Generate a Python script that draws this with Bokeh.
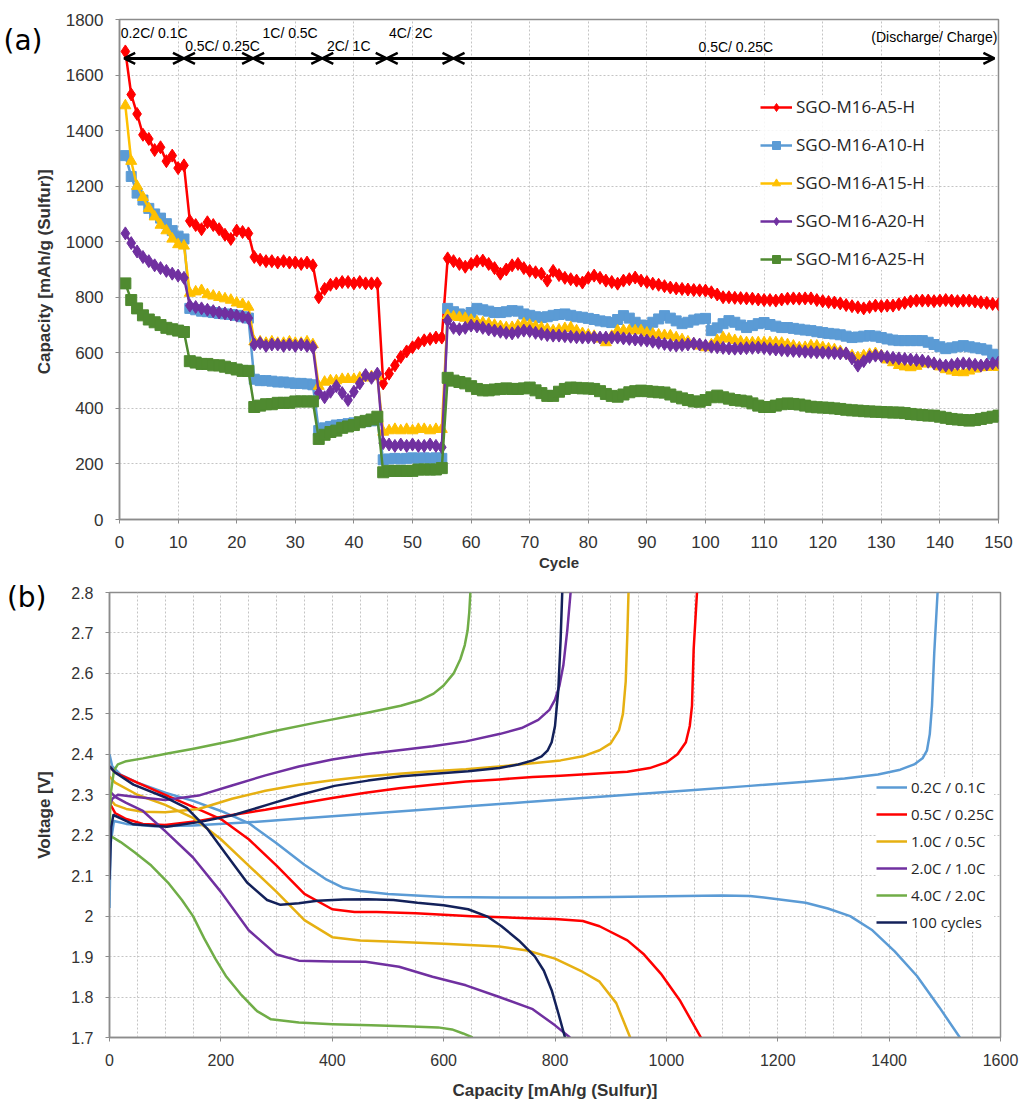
from bokeh.plotting import figure
from bokeh.layouts import column, row
from bokeh.models import (ColumnDataSource, Legend, LegendItem, Arrow, OpenHead,
                          FixedTicker, Range1d, LinearAxis)
from bokeh.embed import file_html
from bokeh.resources import INLINE
from bokeh.core.properties import value

# ---------------- Panel (a) data: capacity vs cycle ----------------
cycles = list(range(1, 151))
series_names = ["SGO-M16-A5-H", "SGO-M16-A10-H", "SGO-M16-A15-H", "SGO-M16-A20-H", "SGO-M16-A25-H"]

cap_a5 = [
    1685, 1530, 1460, 1385, 1370, 1330, 1340, 1290, 1310, 1265,
    1275, 1075, 1060, 1045, 1070, 1060, 1045, 1025, 1010, 1040,
    1035, 1030, 945, 935, 930, 930, 925, 930, 925, 925,
    920, 925, 915, 800, 830, 845, 850, 855, 855, 850,
    855, 850, 850, 850, 490, 525, 555, 585, 605, 620,
    635, 645, 650, 655, 655, 940, 930, 920, 910, 920,
    930, 932, 920, 905, 885, 900, 915, 920, 905, 895,
    890, 885, 860, 895, 880, 870, 865, 860, 853, 870,
    878, 870, 860, 855, 849, 860, 865, 871, 860, 855,
    849, 845, 840, 835, 832, 830, 828, 826, 825, 824,
    818, 810, 800, 800, 798, 797, 796, 795, 792, 790,
    790, 788, 792, 795, 796, 795, 796, 796, 790, 786,
    783, 781, 778, 772, 768, 764, 760, 765, 770, 768,
    770, 770, 775, 780, 785, 788, 788, 788, 786, 788,
    790, 788, 786, 788, 788, 785, 782, 780, 776, 775]

cap_a10 = [
    1310, 1235, 1175, 1150, 1120, 1100, 1085, 1065, 1040, 1020,
    1010, 760, 755, 750, 748, 745, 742, 740, 738, 735,
    730, 725, 505, 500, 500, 498, 495, 495, 492, 490,
    490, 488, 485, 320, 330, 335, 340, 342, 345, 348,
    350, 352, 355, 358, 215, 218, 220, 218, 220, 222,
    220, 222, 220, 222, 220, 760, 748, 740, 735, 745,
    760, 755, 750, 745, 745, 748, 752, 750, 740, 735,
    730, 727, 730, 735, 738, 740, 735, 730, 728, 724,
    720, 715, 712, 709, 720, 734, 725, 710, 700, 698,
    710, 722, 734, 725, 715, 705, 710, 718, 722, 724,
    680, 690, 705, 716, 710, 700, 691, 698, 705, 709,
    702, 696, 691, 691, 688, 685, 682, 680, 676, 673,
    670, 668, 665, 660, 655, 657, 660, 662, 660, 655,
    650, 646, 644, 644, 644, 644, 644, 638, 630, 622,
    615, 618, 622, 626, 622, 618, 615, 610, 595, 590]

cap_a15 = [
    1490, 1290, 1200, 1160, 1120, 1090, 1060, 1040, 1010, 990,
    985, 815, 820, 825, 810, 805, 800, 795, 790, 780,
    775, 765, 640, 640, 635, 640, 635, 635, 640, 635,
    635, 640, 630, 480, 495, 500, 500, 505, 505, 505,
    510, 510, 515, 515, 315, 320, 325, 320, 325, 320,
    325, 325, 320, 325, 325, 735, 730, 728, 725, 718,
    712, 709, 705, 700, 695, 691, 692, 698, 705, 700,
    695, 690, 685, 680, 683, 688, 691, 680, 670, 665,
    660, 650, 637, 660, 680, 680, 680, 680, 680, 672,
    668, 665, 663, 662, 655, 648, 640, 632, 625, 619,
    630, 645, 655, 650, 645, 640, 637, 637, 637, 637,
    637, 637, 635, 630, 625, 619, 620, 626, 625, 620,
    615, 612, 605, 598, 590, 583, 590, 595, 598, 590,
    575, 565, 555, 550, 547, 552, 560, 565, 560, 550,
    540, 535, 530, 529, 535, 542, 547, 548, 550, 548]

cap_a20 = [
    1030, 995, 965, 945, 930, 915, 905, 895, 885, 878,
    870, 770, 765, 760, 755, 750, 745, 742, 738, 734,
    730, 725, 630, 635, 625, 630, 630, 625, 630, 625,
    630, 625, 620, 455, 440, 460, 480, 455, 430, 460,
    490, 520, 510, 525, 275, 270, 265, 270, 265, 270,
    265, 265, 270, 265, 260, 716, 690, 685, 690, 698,
    695, 690, 684, 680, 676, 672, 670, 675, 680, 678,
    672, 668, 664, 662, 662, 660, 658, 656, 655, 655,
    655, 655, 655, 655, 655, 652, 650, 648, 646, 644,
    640, 636, 632, 628, 626, 628, 630, 633, 630, 626,
    622, 620, 618, 616, 615, 616, 617, 618, 619, 617,
    614, 612, 610, 608, 607, 606, 604, 603, 602, 601,
    600, 599, 598, 598, 580, 554, 570, 585, 590, 588,
    585, 582, 580, 578, 576, 574, 572, 568, 562, 556,
    554, 556, 560, 562, 560, 557, 554, 558, 562, 565]

cap_a25 = [
    850, 790, 760, 735, 720, 710, 700, 690, 685, 680,
    675, 570, 565, 560, 560, 555, 555, 550, 545, 540,
    535, 535, 405, 410, 415, 415, 420, 420, 420, 425,
    425, 425, 425, 290, 305, 315, 320, 330, 335, 340,
    350, 355, 360, 370, 170, 175, 175, 175, 175, 175,
    180, 180, 180, 180, 185, 510, 500, 495, 490, 480,
    470, 465, 465, 468, 470, 472, 470, 470, 472, 475,
    465, 455, 445, 445, 460, 470, 475, 474, 472, 472,
    470, 462, 452, 445, 442, 450, 458, 462, 464, 462,
    460, 458, 457, 450, 442, 436, 430, 425, 424, 430,
    440, 446, 440, 435, 430, 428, 425, 418, 410, 405,
    405, 410, 415, 418, 416, 414, 410, 406, 404, 403,
    402, 400, 398, 395, 393, 392, 390, 389, 388, 387,
    386, 385, 385, 383, 380, 378, 376, 374, 374, 370,
    366, 362, 360, 358, 356, 358, 362, 366, 370, 374]

# rate-step annotations (cycle boundaries of the arrows)
phase_bounds = [0.8, 11.0, 22.8, 34.6, 45.6, 57.0, 149.3]
arrow_level = 1660
rate_labels = ["0.2C/ 0.1C", "0.5C/ 0.25C", "1C/ 0.5C", "2C/ 1C", "4C/ 2C", "0.5C/ 0.25C"]
rate_label_x = [0.2, 11.2, 24.4, 35.4, 46.0, 98.8]
rate_label_y = [1753, 1703, 1753, 1703, 1753, 1700]
note_text = "(Discharge/ Charge)"
panel_tags = ["(a)", "(b)"]

# ---------------- Panel (b) data: voltage profiles ----------------
curve_names = ["0.2C / 0.1C", "0.5C / 0.25C", "1.0C / 0.5C", "2.0C / 1.0C", "4.0C / 2.0C", "100 cycles"]

c02_dis_cap = [0, 5, 20, 50, 100, 150, 200, 250, 300, 350, 390, 420, 450, 500, 600, 700, 800, 900,
               1000, 1100, 1150, 1200, 1250, 1290, 1330, 1370, 1410, 1450, 1490, 1527]
c02_dis_v = [2.40, 2.37, 2.35, 2.33, 2.305, 2.285, 2.26, 2.23, 2.18, 2.127, 2.09, 2.07, 2.062, 2.055,
             2.047, 2.046, 2.046, 2.047, 2.049, 2.051, 2.050, 2.042, 2.033, 2.019, 2.0, 1.965,
             1.913, 1.852, 1.775, 1.70]
c02_chg_cap = [0, 2, 8, 30, 80, 150, 250, 350, 450, 550, 650, 750, 850, 950, 1050, 1150, 1250,
               1320, 1380, 1420, 1445, 1460, 1468, 1473, 1477, 1481, 1487]
c02_chg_v = [2.02, 2.18, 2.235, 2.228, 2.222, 2.224, 2.232, 2.242, 2.252, 2.262, 2.272, 2.282,
             2.292, 2.302, 2.312, 2.322, 2.332, 2.340, 2.350, 2.362, 2.375, 2.39, 2.41, 2.45,
             2.52, 2.65, 2.80]

c05_dis_cap = [0, 10, 50, 100, 150, 200, 250, 300, 350, 400, 440, 480, 550, 650, 750, 800, 850,
               880, 930, 960, 990, 1025, 1062]
c05_dis_v = [2.37, 2.355, 2.33, 2.30, 2.27, 2.24, 2.19, 2.125, 2.055, 2.017, 2.01, 2.01, 2.007,
             2.0, 1.995, 1.993, 1.988, 1.975, 1.94, 1.905, 1.858, 1.79, 1.70]
c05_chg_cap = [0, 10, 30, 60, 100, 160, 220, 280, 340, 400, 460, 520, 580, 640, 700, 760, 810,
               870, 930, 970, 1000, 1020, 1035, 1042, 1046, 1049, 1055]
c05_chg_v = [2.28, 2.255, 2.24, 2.228, 2.225, 2.235, 2.25, 2.263, 2.278, 2.292, 2.305, 2.316,
             2.325, 2.333, 2.338, 2.344, 2.347, 2.352, 2.357, 2.366, 2.38, 2.40, 2.43, 2.47,
             2.52, 2.66, 2.80]

c10_dis_cap = [0, 10, 50, 100, 150, 200, 250, 300, 350, 400, 450, 500, 600, 700, 750, 800, 850,
               880, 910, 935]
c10_dis_v = [2.345, 2.33, 2.30, 2.275, 2.243, 2.19, 2.125, 2.06, 1.99, 1.948, 1.94, 1.937, 1.932,
             1.925, 1.915, 1.895, 1.862, 1.838, 1.785, 1.70]
c10_chg_cap = [0, 10, 30, 60, 100, 160, 220, 280, 340, 400, 460, 520, 580, 640, 700, 760, 810,
               850, 880, 900, 915, 922, 927, 930, 932]
c10_chg_v = [2.29, 2.275, 2.265, 2.258, 2.257, 2.265, 2.29, 2.31, 2.325, 2.336, 2.345, 2.352,
             2.358, 2.363, 2.37, 2.378, 2.385, 2.395, 2.41, 2.427, 2.46, 2.50, 2.58, 2.70, 2.80]

c20_dis_cap = [0, 10, 30, 60, 100, 150, 200, 250, 300, 340, 400, 460, 520, 580, 640, 700, 760,
               800, 827]
c20_dis_v = [2.31, 2.295, 2.28, 2.26, 2.21, 2.145, 2.06, 1.965, 1.905, 1.89, 1.888, 1.887, 1.875,
             1.85, 1.829, 1.80, 1.77, 1.73, 1.70]
c20_chg_cap = [0, 5, 15, 40, 100, 160, 220, 280, 340, 400, 460, 520, 580, 640, 700, 740, 770, 790,
               800, 808, 815, 822, 828]
c20_chg_v = [2.27, 2.29, 2.30, 2.296, 2.287, 2.298, 2.323, 2.348, 2.37, 2.387, 2.40, 2.41, 2.42,
             2.432, 2.45, 2.465, 2.485, 2.51, 2.535, 2.57, 2.62, 2.706, 2.80]

c40_dis_cap = [0, 20, 45, 75, 105, 130, 150, 170, 190, 210, 235, 265, 290, 340, 400, 470, 530,
               590, 615, 635, 652]
c40_dis_v = [2.20, 2.183, 2.158, 2.125, 2.083, 2.04, 2.0, 1.945, 1.895, 1.85, 1.808, 1.765, 1.745,
             1.737, 1.733, 1.730, 1.728, 1.725, 1.72, 1.71, 1.70]
c40_chg_cap = [0, 2, 8, 15, 30, 60, 104, 151, 223, 301, 373, 463, 523, 560, 582, 600, 618, 630,
               638, 643, 646, 648]
c40_chg_v = [2.20, 2.30, 2.36, 2.375, 2.383, 2.39, 2.402, 2.414, 2.434, 2.459, 2.479, 2.503, 2.52,
             2.535, 2.55, 2.57, 2.60, 2.635, 2.67, 2.706, 2.75, 2.80]

c100_dis_cap = [0, 10, 43, 103, 139, 175, 211, 247, 283, 307, 340, 373, 420, 464, 510, 553, 600,
                644, 680, 704, 735, 764, 780, 794, 806, 818]
c100_dis_v = [2.37, 2.355, 2.325, 2.292, 2.267, 2.217, 2.15, 2.083, 2.04, 2.028, 2.032, 2.038,
              2.041, 2.042, 2.04, 2.033, 2.027, 2.017, 1.998, 1.975, 1.94, 1.90, 1.865, 1.817,
              1.76, 1.70]
c100_chg_cap = [0, 3, 7, 19, 43, 103, 163, 223, 283, 343, 404, 464, 524, 584, 644, 700, 734, 760,
                776, 787, 794, 800, 806, 810, 813]
c100_chg_v = [2.09, 2.22, 2.25, 2.242, 2.227, 2.221, 2.233, 2.25, 2.275, 2.30, 2.322, 2.335,
              2.346, 2.352, 2.358, 2.366, 2.375, 2.385, 2.395, 2.41, 2.43, 2.47, 2.56, 2.68, 2.80]

# ---------------- styling ----------------
SANS = "Liberation Sans"
LEG_FONT = "Open Sans"
AXIS_GRAY = "#8c8c8c"
GRID_GRAY = "#c4c4c4"


def style_axes(p, tick_size):
    for ax in (p.xaxis[0], p.yaxis[0]):
        ax.axis_line_color = AXIS_GRAY
        ax.axis_line_width = 1.5
        ax.major_tick_line_color = AXIS_GRAY
        ax.major_tick_out = 4
        ax.major_tick_in = 0
        ax.minor_tick_line_color = None
        ax.major_label_text_font = SANS
        ax.major_label_text_font_size = tick_size
        ax.major_label_text_color = "#333333"
        ax.axis_label_text_font = SANS
        ax.axis_label_text_font_style = "bold"
        ax.axis_label_text_color = "#333333"
        ax.major_label_standoff = 12
    p.outline_line_color = AXIS_GRAY
    p.outline_line_width = 1.5
    p.grid.grid_line_color = GRID_GRAY
    p.grid.grid_line_dash = "2 2"
    p.grid.grid_line_width = 1


def tag_axis(tick, text, standoff):
    # an outer, line-less axis whose single tick label is the panel tag
    return LinearAxis(ticker=FixedTicker(ticks=[tick]), major_label_overrides={tick: text},
                      axis_line_color=None, major_tick_line_color=None,
                      minor_tick_line_color=None, major_tick_out=0, major_tick_in=0,
                      major_label_standoff=standoff, major_label_text_font="DejaVu Sans",
                      major_label_text_font_size="28px", major_label_text_color="black")


# ---------------- Panel (a) ----------------
pa = figure(width=1024, height=578, x_range=Range1d(0, 150), y_range=Range1d(0, 1800),
            output_backend="svg", toolbar_location=None,
            min_border_left=117, min_border_right=26, min_border_top=19, min_border_bottom=59)
style_axes(pa, "17px")
pa.xaxis.ticker = FixedTicker(ticks=list(range(0, 151, 10)))
pa.yaxis.ticker = FixedTicker(ticks=list(range(0, 1801, 200)))
pa.xaxis.axis_label = "Cycle"
pa.xaxis.axis_label_text_font_size = "15px"
pa.xaxis.axis_label_standoff = 3
pa.yaxis.axis_label = "Capacity  [mAh/g (Sulfur)]"
pa.yaxis.axis_label_text_font_size = "17px"
pa.yaxis.axis_label_standoff = 9
pa.add_layout(tag_axis(1724, panel_tags[0], -11), "left")

colors_a = ["#ff0000", "#5b9bd5", "#ffc000", "#7030a0", "#4f8a30"]
markers_a = ["diamond", "square", "triangle", "diamond", "square"]
sizes_a = [13, 10, 11, 13, 11]
data_a = [cap_a5, cap_a10, cap_a15, cap_a20, cap_a25]
items_a = []
for name, col, mk, sz, ys in zip(series_names, colors_a, markers_a, sizes_a, data_a):
    src = ColumnDataSource(dict(x=cycles, y=ys))
    ln = pa.line("x", "y", source=src, line_color=col, line_width=2.5)
    sc = pa.scatter("x", "y", source=src, marker=mk, size=sz, fill_color=col, line_color=col)
    items_a.append(LegendItem(label=name, renderers=[ln, sc]))

leg_a = Legend(items=items_a, location=(641, 249), glyph_width=32, glyph_height=20,
               label_standoff=4, spacing=15, padding=5, border_line_color=None,
               background_fill_color="white", background_fill_alpha=0.85,
               label_text_font=LEG_FONT, label_text_font_size="17px",
               label_text_color="#262626", label_height=20)
pa.add_layout(leg_a)

arr_src = ColumnDataSource(dict(x0=phase_bounds[:-1], x1=phase_bounds[1:],
                                y0=[arrow_level] * 6, y1=[arrow_level] * 6))
pa.add_layout(Arrow(start=OpenHead(size=11, line_width=2.5, line_color="black"),
                    end=OpenHead(size=11, line_width=2.5, line_color="black"),
                    x_start="x0", y_start="y0", x_end="x1", y_end="y1",
                    source=arr_src, line_width=3, line_color="black"))

pa.text(x=rate_label_x, y=rate_label_y, text=rate_labels, text_font=value(SANS),
        text_font_size="14px", text_baseline="middle", text_align="left", text_color="black")
pa.text(x=[149.8], y=[1738], text=[note_text], text_font=value(SANS),
        text_font_size="14px", text_baseline="middle", text_align="right", text_color="black")

# ---------------- Panel (b) ----------------
pb = figure(width=1024, height=526, x_range=Range1d(0, 1600), y_range=Range1d(1.7, 2.8),
            output_backend="svg", toolbar_location=None,
            min_border_left=109, min_border_right=24, min_border_top=14, min_border_bottom=67)
style_axes(pb, "16px")
pb.xaxis.ticker = FixedTicker(ticks=list(range(0, 1601, 200)))
pb.yaxis.ticker = FixedTicker(ticks=[1.7, 1.8, 1.9, 2.0, 2.1, 2.2, 2.3, 2.4, 2.5, 2.6, 2.7, 2.8])
pb.xgrid.ticker = FixedTicker(ticks=list(range(0, 1601, 50)))
pb.xaxis.axis_label = "Capacity [mAh/g (Sulfur)]"
pb.xaxis.axis_label_text_font_size = "17px"
pb.xaxis.axis_label_standoff = 12
pb.yaxis.axis_label = "Voltage [V]"
pb.yaxis.axis_label_text_font_size = "17px"
pb.yaxis.axis_label_standoff = 14
pb.add_layout(tag_axis(2.8, panel_tags[1], -14), "left")

colors_b = ["#5b9bd5", "#ff0000", "#e6b012", "#7030a0", "#70ad47", "#13215a"]
curves_b = [
    (c02_dis_cap, c02_dis_v, c02_chg_cap, c02_chg_v),
    (c05_dis_cap, c05_dis_v, c05_chg_cap, c05_chg_v),
    (c10_dis_cap, c10_dis_v, c10_chg_cap, c10_chg_v),
    (c20_dis_cap, c20_dis_v, c20_chg_cap, c20_chg_v),
    (c40_dis_cap, c40_dis_v, c40_chg_cap, c40_chg_v),
    (c100_dis_cap, c100_dis_v, c100_chg_cap, c100_chg_v),
]
items_b = []
for name, col, (dx, dy, cx, cy) in zip(curve_names, colors_b, curves_b):
    l1 = pb.line(dx, dy, line_color=col, line_width=2.5, line_join="round")
    l2 = pb.line(cx, cy, line_color=col, line_width=2.5, line_join="round")
    items_b.append(LegendItem(label=name, renderers=[l1]))

leg_b = Legend(items=items_b, location=(767, 105), glyph_width=31, glyph_height=20,
               label_standoff=4, spacing=7, padding=3, border_line_color=None,
               background_fill_color="white", background_fill_alpha=1.0,
               label_text_font=LEG_FONT, label_text_font_size="15px",
               label_text_color="#262626", label_height=20)
pb.add_layout(leg_b)

layout = column(row(pa), row(pb), spacing=0)
open("out.html", "w").write(file_html(layout, INLINE))
